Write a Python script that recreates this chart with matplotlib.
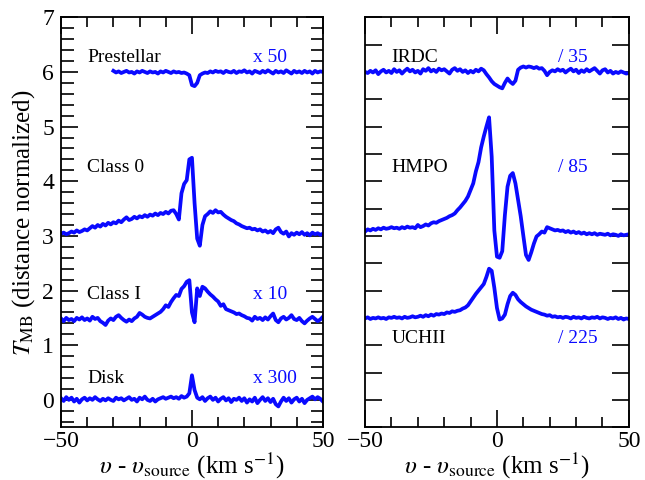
import matplotlib
matplotlib.use('Agg')
import matplotlib.pyplot as plt
from matplotlib.ticker import MultipleLocator
import numpy as np

###       DATA          ###
vel = np.arange(-50, 51)          # km/s, 1 km/s channels
vel_pre = np.arange(-30, 51)      # prestellar spectrum starts at -30

# left panel (low mass), offsets already applied
prestellar = [6.02, 5.99, 6.01, 5.98, 6.00, 6.02, 5.99, 6.00, 5.97, 6.01, 5.99, 6.02, 6.00, 5.98, 6.01, 5.99,
              6.00, 5.97, 6.01, 5.99, 6.02, 6.00, 5.98, 6.01, 5.99, 6.00, 5.98, 5.99, 5.97, 5.94, 5.76, 5.74,
              5.80, 5.94, 5.97, 5.99, 5.98, 6.01, 5.99, 6.02, 6.00, 6.01, 5.98, 6.02, 6.00, 5.99, 6.02, 5.98,
              6.01, 6.00, 6.03, 5.99, 6.01, 5.97, 6.02, 6.00, 5.98, 6.02, 5.99, 6.03, 6.00, 5.97, 6.02, 5.99,
              6.01, 5.98, 6.03, 6.00, 5.97, 6.02, 5.99, 6.01, 5.98, 6.02, 5.99, 6.01, 5.97, 6.02, 5.99, 6.01, 6.00]

class0 = [3.04, 3.06, 3.03, 3.05, 3.08, 3.06, 3.10, 3.07, 3.09, 3.12, 3.10, 3.14, 3.18, 3.15, 3.20, 3.17,
          3.22, 3.19, 3.24, 3.21, 3.25, 3.23, 3.28, 3.25, 3.30, 3.34, 3.29, 3.31, 3.35, 3.32, 3.36, 3.34,
          3.38, 3.35, 3.39, 3.37, 3.41, 3.38, 3.42, 3.40, 3.44, 3.41, 3.46, 3.47, 3.40, 3.30, 3.78, 3.95,
          4.02, 4.40, 4.43, 3.60, 2.95, 2.82, 3.20, 3.36, 3.40, 3.45, 3.42, 3.47, 3.43, 3.44, 3.39, 3.35,
          3.32, 3.29, 3.27, 3.23, 3.21, 3.18, 3.16, 3.14, 3.15, 3.12, 3.13, 3.10, 3.12, 3.08, 3.10, 3.06,
          3.09, 3.05, 3.12, 3.15, 3.07, 3.04, 3.08, 2.99, 3.05, 3.02, 3.06, 3.03, 3.07, 3.02, 3.05, 3.01,
          3.06, 3.03, 3.05, 3.02, 3.04]

class1 = [1.49, 1.44, 1.50, 1.46, 1.48, 1.44, 1.50, 1.47, 1.51, 1.46, 1.49, 1.45, 1.52, 1.48, 1.50, 1.44,
          1.41, 1.37, 1.45, 1.49, 1.46, 1.52, 1.55, 1.50, 1.46, 1.43, 1.47, 1.44, 1.49, 1.52, 1.59, 1.56,
          1.52, 1.50, 1.49, 1.52, 1.55, 1.58, 1.61, 1.66, 1.73, 1.70, 1.79, 1.86, 1.92, 1.90, 2.03, 2.08,
          2.16, 2.19, 1.60, 1.42, 2.04, 1.90, 2.07, 2.04, 1.98, 1.93, 1.89, 1.84, 1.80, 1.72, 1.75, 1.66,
          1.64, 1.62, 1.60, 1.57, 1.58, 1.55, 1.53, 1.50, 1.49, 1.45, 1.52, 1.48, 1.50, 1.46, 1.51, 1.47,
          1.53, 1.58, 1.46, 1.42, 1.49, 1.52, 1.47, 1.50, 1.55, 1.48, 1.46, 1.50, 1.44, 1.40, 1.45, 1.49,
          1.52, 1.48, 1.44, 1.47, 1.52]

disk = [0.03, -0.02, 0.05, 0.00, 0.04, -0.03, 0.02, -0.05, 0.01, 0.04, -0.01, 0.03, 0.00, 0.05, 0.01, -0.02,
        0.02, -0.01, 0.03, 0.00, -0.02, 0.04, 0.01, 0.03, -0.01, 0.02, 0.05, 0.00, 0.02, -0.03, 0.04, 0.01,
        0.06, 0.00, -0.02, 0.02, -0.03, 0.01, 0.03, 0.05, 0.02, 0.04, 0.06, 0.03, 0.05, 0.02, 0.07, 0.04,
        0.06, 0.12, 0.45, 0.18, 0.04, 0.01, 0.05, -0.02, 0.03, 0.06, 0.00, 0.04, -0.03, 0.02, 0.05, -0.01,
        0.03, -0.04, 0.02, 0.00, 0.04, -0.02, 0.03, -0.05, 0.01, -0.03, 0.04, -0.06, 0.00, 0.05, -0.02, 0.03,
        -0.04, 0.02, -0.08, -0.12, -0.03, 0.04, -0.02, 0.03, -0.05, 0.01, 0.04, -0.03, 0.02, -0.06, 0.00, 0.03,
        0.06, 0.01, 0.05, 0.02, -0.03]

# right panel (high mass)
irdc = [6.00, 5.98, 6.02, 5.99, 6.03, 5.96, 6.01, 6.04, 5.99, 6.02, 5.98, 6.05, 6.00, 6.03, 5.97, 6.02,
        6.06, 6.01, 6.04, 5.99, 6.02, 5.97, 6.05, 6.02, 6.07, 6.01, 6.04, 6.00, 6.06, 6.03, 6.05, 6.01,
        5.97, 6.04, 6.07, 6.02, 6.05, 6.00, 6.03, 5.98, 6.02, 5.99, 6.04, 6.01, 6.06, 6.03, 5.96, 5.90,
        5.83, 5.78, 5.75, 5.72, 5.70, 5.80, 5.88, 5.82, 5.78, 5.84, 6.04, 6.08, 6.10, 6.08, 6.10, 6.09,
        6.07, 6.09, 6.06, 6.07, 6.02, 5.94, 6.00, 6.03, 6.01, 6.05, 6.02, 6.04, 5.99, 6.03, 6.06, 6.01,
        6.04, 5.98, 6.03, 6.00, 6.05, 6.01, 6.04, 6.07, 6.02, 5.97, 6.03, 6.05, 5.99, 6.02, 5.97, 6.00,
        5.98, 6.01, 5.99, 5.97, 5.98]

hmpo = [3.08, 3.12, 3.10, 3.13, 3.11, 3.14, 3.12, 3.15, 3.13, 3.14, 3.16, 3.14, 3.15, 3.13, 3.16, 3.14,
        3.17, 3.15, 3.16, 3.14, 3.20, 3.16, 3.18, 3.21, 3.19, 3.23, 3.25, 3.24, 3.27, 3.29, 3.31, 3.33,
        3.36, 3.38, 3.41, 3.47, 3.52, 3.58, 3.64, 3.72, 3.84, 3.96, 4.18, 4.35, 4.62, 4.82, 5.00, 5.17,
        4.45, 3.10, 2.62, 2.60, 2.72, 3.38, 3.90, 4.10, 4.15, 3.96, 3.66, 3.36, 3.00, 2.65, 2.56, 2.70,
        2.86, 2.99, 3.03, 3.08, 3.06, 3.16, 3.14, 3.12, 3.10, 3.11, 3.09, 3.10, 3.07, 3.09, 3.06, 3.08,
        3.05, 3.07, 3.04, 3.06, 3.03, 3.05, 3.03, 3.05, 3.02, 3.04, 3.03, 3.02, 3.04, 3.01, 3.03, 3.02,
        3.00, 3.03, 3.01, 3.02, 3.03]

uchii = [1.49, 1.51, 1.48, 1.50, 1.49, 1.51, 1.49, 1.50, 1.48, 1.51, 1.50, 1.52, 1.50, 1.51, 1.49, 1.52,
         1.50, 1.51, 1.53, 1.51, 1.52, 1.54, 1.52, 1.55, 1.53, 1.56, 1.54, 1.57, 1.56, 1.58, 1.57, 1.60,
         1.59, 1.62, 1.61, 1.63, 1.64, 1.67, 1.69, 1.73, 1.80, 1.87, 1.94, 2.00, 2.06, 2.12, 2.25, 2.40,
         2.36, 2.05, 1.68, 1.47, 1.49, 1.56, 1.75, 1.90, 1.96, 1.92, 1.84, 1.79, 1.75, 1.71, 1.68, 1.65,
         1.63, 1.61, 1.59, 1.57, 1.56, 1.54, 1.55, 1.52, 1.53, 1.51, 1.52, 1.50, 1.52, 1.51, 1.49, 1.52,
         1.50, 1.51, 1.49, 1.52, 1.50, 1.49, 1.51, 1.50, 1.52, 1.49, 1.51, 1.50, 1.48, 1.50, 1.49, 1.51,
         1.48, 1.50, 1.47, 1.49, 1.48]

left_names = ['Prestellar', 'Class 0', 'Class I', 'Disk']
left_scales = ['x 50', '', 'x 10', 'x 300']
right_names = ['IRDC', 'HMPO', 'UCHII']
right_scales = ['/ 35', '/ 85', '/ 225']
###                     ###


###       SETUP         ###
plt.rcParams['font.family'] = ['Liberation Serif', 'DejaVu Serif']
plt.rcParams['mathtext.fontset'] = 'stix'
plt.rcParams['axes.linewidth'] = 1.3

line_col = '#0a0aff'
line_width = 2.7
name_size = 14
tick_size = 17
label_size = 18

mydpi = 100
fig = plt.figure(figsize=(645/mydpi, 480/mydpi), dpi=mydpi)
ax1 = fig.add_axes([0.0946, 0.110, 0.406, 0.854])
ax2 = fig.add_axes([0.566, 0.110, 0.409, 0.854])
###                     ###


###       PLOT          ###
ax1.plot(vel_pre, prestellar, color=line_col, lw=line_width)
ax1.plot(vel, class0, color=line_col, lw=line_width)
ax1.plot(vel, class1, color=line_col, lw=line_width)
ax1.plot(vel, disk, color=line_col, lw=line_width)

ax2.plot(vel, irdc, color=line_col, lw=line_width)
ax2.plot(vel, hmpo, color=line_col, lw=line_width)
ax2.plot(vel, uchii, color=line_col, lw=line_width)

# labels inside the panels
left_y = [6.27, 4.25, 1.93, 0.4]
for name, sc, yy in zip(left_names, left_scales, left_y):
    ax1.text(-40, yy, name, fontsize=name_size, va='center', ha='left')
    if sc:
        ax1.text(23.3, yy, sc, fontsize=name_size, va='center', ha='left', color=line_col)

right_y = [6.27, 4.25, 1.13]
for name, sc, yy in zip(right_names, right_scales, right_y):
    ax2.text(-40, yy, name, fontsize=name_size, va='center', ha='left')
    ax2.text(23.2, yy, sc, fontsize=name_size, va='center', ha='left', color=line_col)

for ax in (ax1, ax2):
    ax.set_xlim(-50, 50)
    ax.set_ylim(-0.5, 7)
    ax.xaxis.set_major_locator(MultipleLocator(50))
    ax.xaxis.set_minor_locator(MultipleLocator(10))
    ax.tick_params(which='both', direction='in', top=True, right=True, width=1.2, labelsize=tick_size)
    ax.tick_params(which='major', length=12, pad=5)
    ax.tick_params(which='minor', length=7)
    ax.tick_params(axis='x', which='major', pad=3)
    ax.set_xlabel(r'$\upsilon$ - $\upsilon_{\rm source}$ (km s$^{-1}$)', fontsize=label_size, labelpad=-1)

ax1.yaxis.set_major_locator(MultipleLocator(1))
ax1.yaxis.set_minor_locator(MultipleLocator(0.2))
ax1.tick_params(axis='y', which='minor', length=9)
ax1.set_ylabel(r'$T_{\rm MB}$ (distance normalized)', fontsize=label_size, labelpad=4)

ax2.yaxis.set_major_locator(MultipleLocator(0.5))
ax2.yaxis.set_minor_locator(MultipleLocator(0.5))
ax2.tick_params(axis='y', labelleft=False)
###                     ###


###        OUTPUT       ###
plt.savefig('out.png', dpi=mydpi, facecolor='white')
###                     ###
